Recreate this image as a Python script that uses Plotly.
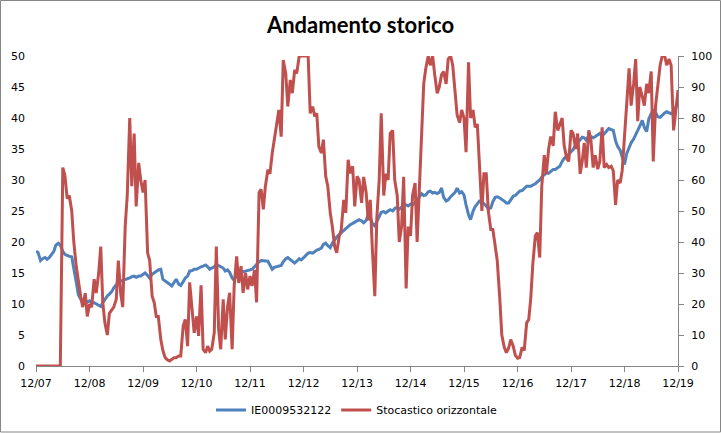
import pandas as pd
import plotly.graph_objects as go

# semi-monthly observation dates, Dec 2007 .. Dec 2019
dates = pd.date_range("2007-12-01", "2019-12-01", freq="SMS")

price = [
    18.5, 18.3, 17.0, 17.3, 17.5, 17.2, 17.5, 18.0, 18.5, 19.5, 19.8, 19.5, 18.5, 18.0, 17.8, 17.7,
    17.6, 16.0, 13.5, 11.5, 10.8, 10.2, 10.5, 10.3, 10.5, 10.2, 10.2, 10.0, 9.8, 9.6, 10.2, 10.8,
    11.3, 11.6, 12.0, 12.6, 13.2, 13.5, 13.7, 13.8, 13.9, 14.0, 14.2, 14.4, 14.5, 14.3, 14.5, 14.5,
    14.7, 15.0, 14.6, 14.2, 14.8, 15.0, 15.3, 15.5, 15.6, 14.0, 13.7, 13.5, 13.2, 12.9, 13.5, 14.0,
    13.2, 13.0, 13.6, 14.2, 14.5, 15.3, 15.4, 15.6, 15.6, 15.8, 16.0, 16.1, 16.3, 16.0, 15.6, 15.8,
    16.0, 16.4, 16.2, 16.1, 15.8, 15.3, 15.5, 15.1, 14.2, 13.8, 14.8, 15.0, 15.1, 15.1, 15.2, 15.4,
    15.5, 15.6, 16.0, 16.5, 16.8, 17.0, 17.0, 16.9, 16.9, 16.3, 15.6, 15.9, 16.0, 16.1, 16.2, 16.8,
    17.3, 17.5, 17.2, 16.9, 16.6, 16.9, 17.3, 17.1, 17.4, 17.8, 18.2, 18.3, 18.2, 18.5, 18.7, 18.8,
    19.0, 19.6, 19.8, 19.4, 19.1, 19.8, 20.4, 20.8, 21.2, 21.5, 21.8, 22.2, 22.5, 22.8, 23.0, 23.2,
    23.4, 23.6, 23.4, 23.1, 23.5, 24.4, 23.9, 23.0, 22.6, 23.4, 24.2, 24.8, 24.9, 24.7, 25.0, 25.2,
    25.0, 25.4, 25.6, 25.3, 25.6, 25.9, 26.0, 25.8, 26.1, 26.0, 26.3, 26.8, 27.4, 27.8, 27.5, 27.6,
    28.1, 28.2, 27.9, 28.0, 27.8, 28.0, 28.7, 27.2, 26.6, 26.8, 27.3, 27.6, 28.0, 28.7, 27.9, 28.1,
    27.6, 26.0, 24.4, 23.6, 25.0, 25.7, 26.2, 26.6, 26.4, 26.2, 25.8, 25.4, 25.5, 26.5, 27.2, 27.3,
    27.1, 26.9, 26.6, 26.3, 26.3, 26.8, 27.4, 27.5, 27.8, 28.2, 28.3, 28.6, 29.0, 29.0, 29.0, 29.2,
    29.4, 29.7, 30.0, 30.5, 30.9, 31.1, 31.1, 31.4, 31.7, 31.7, 32.0, 32.2, 33.0, 33.5, 33.8, 34.2,
    34.6, 34.9, 35.6, 36.0, 36.5, 36.9, 36.8, 36.4, 37.2, 37.0, 36.8, 37.0, 37.3, 37.5, 37.1, 37.4,
    37.9, 38.3, 38.2, 38.0, 36.3, 35.4, 34.8, 33.7, 32.5, 34.2, 35.2, 36.0, 36.6, 37.4, 38.2, 38.7,
    39.6, 38.5, 37.8, 39.8, 40.7, 41.2, 40.9, 40.2, 40.1, 40.5, 40.8, 41.0, 40.8, 40.7, 41.0, 41.7,
    42.5,
]

stochastic = [
    0, 0, 0, 0, 0, 0, 0, 0, 0, 0, 0, 0, 64, 61.5, 54, 55,
    50, 40, 32, 27, 22.5, 19, 23.5, 16, 20, 19, 28, 23.5, 30, 38.5, 20.5, 14,
    10, 17, 18, 19, 21.5, 34, 23.5, 19, 45, 55, 80, 58, 75, 51.5, 65.5, 60,
    56, 60, 36.5, 34, 22.5, 20.5, 16, 16, 8.5, 5, 2.7, 2, 1.6, 2.1, 2.7, 2.7,
    3.2, 3.2, 13, 15, 6.4, 27, 17, 10.7, 16, 9.7, 26, 5.4, 4.3, 6.4, 4.8, 5.4,
    10.7, 38.5, 11.8, 5.4, 21.5, 8.6, 19.3, 23.6, 5.4, 25.8, 35.4, 26.8, 32.2, 23.6, 30, 24.7,
    29, 25.8, 31, 20.5, 56, 57, 50.5, 58, 63.3, 62, 68.7, 73, 78.3, 82.6, 74, 98.7,
    94.4, 83.7, 92.3, 88, 95.5, 94.4, 100, 100, 100, 100, 100, 81.5, 83.7, 80.5, 81.5, 70.8,
    68.7, 73, 61.2, 58, 49.4, 45, 38.6, 36.5, 41.8, 44, 53.6, 49.4, 66.5, 62.2, 64.4, 51.5,
    61.2, 60, 52.6, 61, 56, 47, 53.6, 38, 22.5, 48, 60, 81.5, 55, 62, 60, 75,
    76, 60, 55, 40, 45, 61, 25, 45, 42, 55, 59, 40, 60, 76, 91, 96,
    100, 97, 100, 94, 88, 90, 94, 95, 91, 99, 100, 97, 87, 81, 78.5, 82.6,
    80, 69, 98, 80, 82.6, 77, 78, 66, 50, 62, 62, 50, 44, 44, 38, 34,
    22, 10, 6, 4.3, 5.8, 8.5, 6.4, 3.5, 2.5, 2.7, 6, 5, 14, 15, 22, 33,
    42, 43, 35, 58, 68, 62, 70, 74, 71, 82, 76, 78, 80, 71, 67, 66,
    76, 75, 70, 75, 62, 66, 72, 64, 76, 73, 64, 68, 63.5, 66, 77, 64,
    65, 64, 64.4, 63, 52, 60, 59, 63, 73, 84, 96, 84, 91, 99, 79, 90,
    87, 84, 91, 88, 95, 66, 84, 90, 97, 100, 100, 97, 99, 97, 76, 82,
    89,
]

tick_dates = pd.date_range("2007-12-01", "2019-12-01", freq="12MS")
tick_labels = ["12/07", "12/08", "12/09", "12/10", "12/11", "12/12", "12/13",
               "12/14", "12/15", "12/16", "12/17", "12/18", "12/19"]

n = min(len(dates), len(price), len(stochastic))

fig = go.Figure()
fig.add_trace(go.Scatter(x=dates[:n], y=price[:n], name="IE0009532122", mode="lines",
                         line=dict(color="#4F81BD", width=3), yaxis="y"))
fig.add_trace(go.Scatter(x=dates[:n], y=stochastic[:n], name="Stocastico orizzontale", mode="lines",
                         line=dict(color="#C0504D", width=3), yaxis="y2"))

axis_grey = "#868686"
tick_font = dict(family="DejaVu Sans", size=11, color="black")

fig.update_layout(
    width=721, height=433,
    margin=dict(l=36, r=43, t=56, b=67, autoexpand=False),
    paper_bgcolor="white", plot_bgcolor="white",
    title=dict(text="<b>Andamento storico</b>", x=0.5, xanchor="center", y=0.942, yanchor="middle",
               font=dict(family="Lato", size=22, color="black")),
    showlegend=True,
    legend=dict(orientation="h", x=0.5, xanchor="center", yref="container", y=23 / 433,
                yanchor="middle",
                font=dict(family="DejaVu Sans", size=11, color="black"),
                itemwidth=30, bgcolor="rgba(0,0,0,0)"),
    xaxis=dict(type="date", range=[tick_dates[0], tick_dates[-1]],
               tickvals=list(tick_dates), ticktext=tick_labels,
               showline=True, linecolor=axis_grey, linewidth=1,
               ticks="outside", ticklen=5, tickcolor=axis_grey, ticklabelstandoff=2,
               showgrid=False, zeroline=False, tickfont=tick_font),
    yaxis=dict(range=[0, 50], dtick=5, showgrid=False, zeroline=False,
               showline=False, ticks="", ticklabelstandoff=10, tickfont=tick_font),
    yaxis2=dict(range=[0, 100], dtick=10, overlaying="y", side="right",
                showgrid=False, zeroline=False, showline=True, linecolor=axis_grey,
                ticks="outside", ticklen=5, tickcolor=axis_grey, ticklabelstandoff=5,
                tickfont=tick_font),
    shapes=[dict(type="rect", xref="paper", yref="paper",
                 x0=-35.5 / 642, x1=684.5 / 642, y0=-66 / 310, y1=55.5 / 310 + 1,
                 line=dict(color=axis_grey, width=1), fillcolor="rgba(0,0,0,0)", layer="below")],
)

fig.write_html("out.html", config={"displayModeBar": False},
               post_script="document.body.style.margin='0';")
